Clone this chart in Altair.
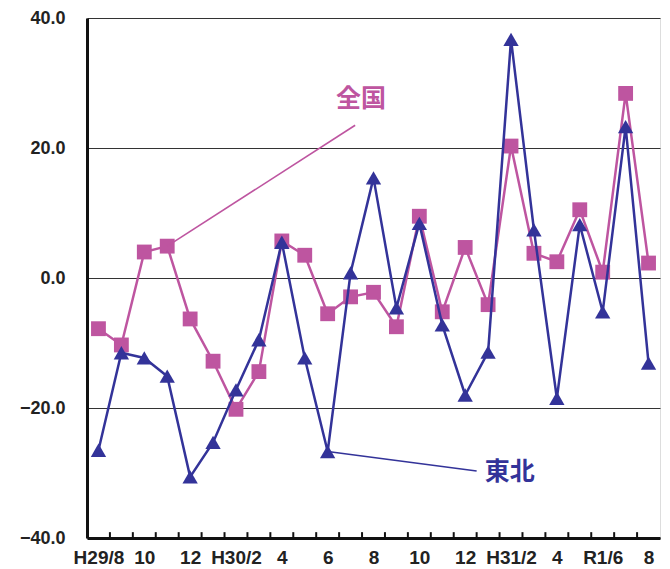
import altair as alt
import pandas as pd

# months H29/8 .. R1/8 (25 months)
months = ["H29/8", "9", "10", "11", "12", "H30/1", "2", "3", "4", "5", "6", "7",
          "8", "9", "10", "11", "12", "H31/1", "2", "3", "4", "R1/5", "6", "7", "8"]
tick_labels = ["H29/8", "10", "12", "H30/2", "4", "6", "8", "10", "12", "H31/2", "4", "R1/6", "8"]

zenkoku = [-7.8, -10.3, 4.0, 4.9, -6.3, -12.8, -20.2, -14.4, 5.7, 3.5, -5.5, -2.9, -2.2,
           -7.5, 9.5, -5.2, 4.7, -4.1, 20.3, 3.8, 2.5, 10.5, 0.9, 28.4, 2.3]
tohoku = [-26.5, -11.5, -12.3, -15.1, -30.6, -25.3, -17.2, -9.5, 5.5, -12.3, -26.7, 0.8, 15.4,
          -4.6, 8.4, -7.2, -18.0, -11.4, 36.7, 7.4, -18.5, 8.2, -5.2, 23.3, -13.1]

c_zen = "#BE55A0"
c_toh = "#333399"

df = pd.DataFrame({
    "x": list(range(len(months))),
    "month": months,
    "zenkoku": zenkoku,
    "tohoku": tohoku,
})

label_arr = "[" + ",".join("'%s'" % t for t in tick_labels) + "]"

xscale = alt.Scale(domain=[-0.5, 24.5], nice=False, zero=False)
yscale = alt.Scale(domain=[-40, 40], nice=False, zero=False)

xaxis = alt.Axis(values=list(range(0, 25, 2)), labelExpr=label_arr + "[round(datum.value/2)]",
                 ticks=False, grid=False, domainWidth=3, domainColor="#111111",
                 labelFontSize=19, labelFontWeight="bold", labelFont="Liberation Sans",
                 labelColor="#222222", labelPadding=10, title=None, labelFlush=False,
                 labelOverlap=False)
yaxis = alt.Axis(values=[-40, -20, 0, 20, 40], format=".1f", ticks=False,
                 grid=True, gridColor="#333333", gridWidth=1.2,
                 domainWidth=3, domainColor="#111111",
                 labelFontSize=18, labelFontWeight="bold", labelFont="Liberation Sans",
                 labelColor="#222222", labelPadding=22, title=None)

base = alt.Chart(df)

line_z = base.mark_line(color=c_zen, strokeWidth=2.5).encode(
    x=alt.X("x:Q", scale=xscale, axis=xaxis),
    y=alt.Y("zenkoku:Q", scale=yscale, axis=yaxis),
)
pts_z = base.mark_point(shape="square", filled=True, opacity=1, color=c_zen, size=220).encode(
    x=alt.X("x:Q", scale=xscale), y=alt.Y("zenkoku:Q", scale=yscale))
line_t = base.mark_line(color=c_toh, strokeWidth=2.5).encode(
    x=alt.X("x:Q", scale=xscale), y=alt.Y("tohoku:Q", scale=yscale))
pts_t = base.mark_point(shape="triangle-up", filled=True, opacity=1, color=c_toh, size=235).encode(
    x=alt.X("x:Q", scale=xscale), y=alt.Y("tohoku:Q", scale=yscale))

# inner tick marks on the x axis at month boundaries
tick_df = pd.DataFrame({"x": [i - 0.5 for i in range(1, 25)], "y": [-40] * 24, "y2": [-39.1] * 24})
ticks = alt.Chart(tick_df).mark_rule(color="#111111", strokeWidth=2).encode(
    x=alt.X("x:Q", scale=xscale), y=alt.Y("y:Q", scale=yscale), y2="y2:Q")

# annotation leader lines
lead_df = pd.DataFrame({
    "x": [3, 10], "y": [4.9, -26.7],
    "x2": [11.2, 16.5], "y2": [23.5, -29.7],
    "c": [c_zen, c_toh],
})
leaders = alt.Chart(lead_df).mark_rule(strokeWidth=1.6).encode(
    x=alt.X("x:Q", scale=xscale), y=alt.Y("y:Q", scale=yscale),
    x2="x2:Q", y2="y2:Q", color=alt.Color("c:N", scale=None))

ann_df = pd.DataFrame({"x": [11.45, 17.95], "y": [27.6, -29.8], "t": ["全国", "東北"],
                       "c": [c_zen, c_toh]})
ann = alt.Chart(ann_df).mark_text(font="Noto Sans CJK JP", fontWeight="bold", fontSize=25,
                                  align="center", baseline="middle").encode(
    x=alt.X("x:Q", scale=xscale), y=alt.Y("y:Q", scale=yscale), text="t:N",
    color=alt.Color("c:N", scale=None))

chart = alt.layer(line_z, pts_z, line_t, pts_t, ticks, leaders, ann).properties(
    width=573, height=520,
    autosize=alt.AutoSizeParams(type="none"),
    padding={"left": 79, "top": 10, "right": 2, "bottom": 33},
).configure_view(stroke="#333333", strokeWidth=2).configure(background="white")

chart.save("out.html", embed_options={"renderer": "svg", "actions": False})
